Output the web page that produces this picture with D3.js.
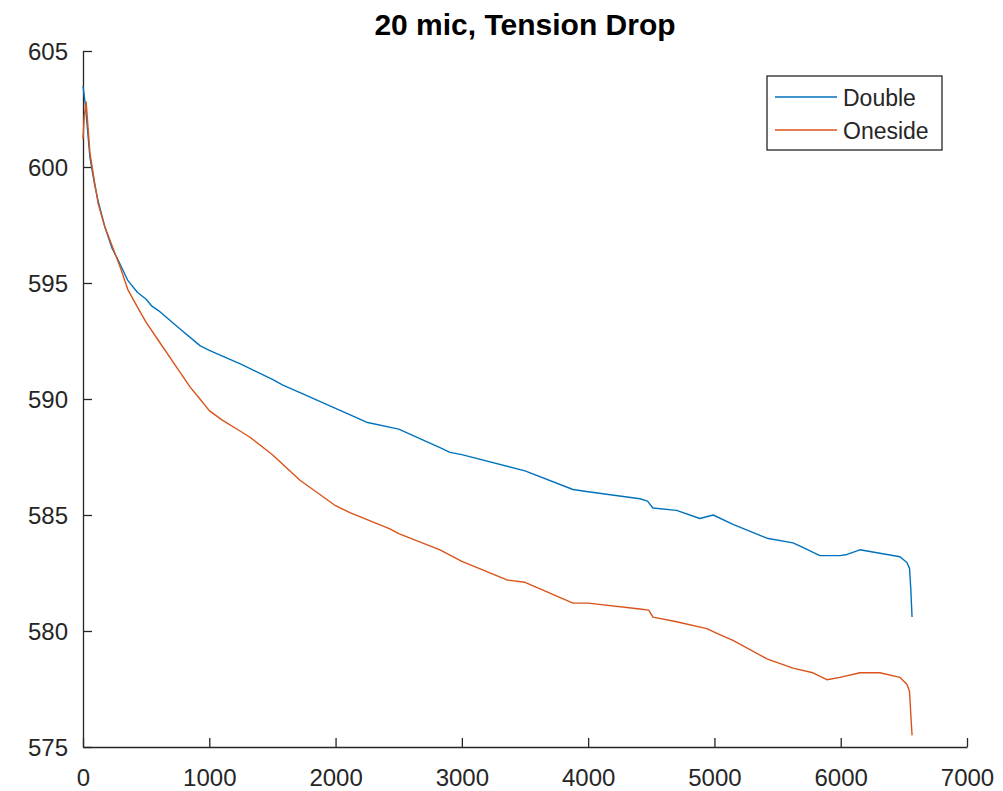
<!DOCTYPE html>
<html>
<head>
<meta charset="utf-8">
<script src="https://cdn.jsdelivr.net/npm/d3@7"></script>
<style>
  body { margin: 0; background: #fff; }
  svg text { font-family: "Liberation Sans", Arial, Helvetica, sans-serif; }
</style>
</head>
<body>
<svg id="chart" width="1003" height="791"></svg>
<script>
// values
var doubleX = [0, 20, 55, 90, 121, 174, 230, 277, 356, 430, 500, 546, 600, 750, 926, 1000, 1250, 1500, 1583, 1750,
  2000, 2245, 2500, 2827, 2906, 3000, 3500, 3880, 4000, 4410, 4470, 4513, 4700, 4885, 4990, 5147, 5416, 5622,
  5700, 5835, 5994, 6050, 6152, 6310, 6469, 6524, 6545, 6555, 6565];
var doubleY = [603.5, 602.6, 600.4, 599.3, 598.5, 597.4, 596.5, 596.0, 595.1, 594.6, 594.3, 594.0, 593.8, 593.1, 592.3, 592.1, 591.5, 590.85, 590.6, 590.2,
  589.6, 589.0, 588.7, 587.9, 587.7, 587.6, 586.9, 586.1, 586.0, 585.7, 585.6, 585.3, 585.2, 584.85, 585.0, 584.6, 584.0, 583.8,
  583.6, 583.25, 583.25, 583.3, 583.5, 583.35, 583.2, 582.95, 582.7, 581.8, 580.6];

var onesideX = [0, 10, 25, 55, 90, 121, 174, 231, 300, 356, 427, 500, 600, 750, 850, 926, 1000, 1100, 1250, 1322, 1500, 1718,
  2000, 2114, 2430, 2500, 2827, 3000, 3357, 3500, 3880, 4000, 4410, 4480, 4513, 4700, 4940, 5020, 5147, 5416, 5622,
  5780, 5890, 5994, 6152, 6310, 6469, 6524, 6545, 6555, 6565];
var onesideY = [601.2, 602.2, 602.8, 600.6, 599.4, 598.4, 597.4, 596.6, 595.6, 594.7, 594.0, 593.3, 592.5, 591.3, 590.5, 590.0, 589.5, 589.1, 588.6, 588.35, 587.6, 586.5,
  585.4, 585.1, 584.4, 584.2, 583.5, 583.0, 582.2, 582.1, 581.2, 581.2, 580.95, 580.9, 580.6, 580.4, 580.1, 579.9, 579.6, 578.8, 578.4,
  578.2, 577.9, 578.0, 578.2, 578.2, 578.0, 577.7, 577.4, 576.4, 575.5];

var xTicks = [0, 1000, 2000, 3000, 4000, 5000, 6000, 7000];
var yTicks = [575, 580, 585, 590, 595, 600, 605];
var seriesNames = ["Double", "Oneside"];
var seriesColors = ["#0072BD", "#D95319"];

var plotLeft = 83, plotRight = 967, plotTop = 51, plotBottom = 747;
var svg = d3.select("#chart");

var x = d3.scaleLinear().domain([0, 7000]).range([plotLeft, plotRight]);
var y = d3.scaleLinear().domain([575, 605]).range([plotBottom, plotTop]);

var axisColor = "#262626";

// x axis, ticks pointing inward like matlab
var gx = svg.append("g")
    .attr("transform", "translate(0," + plotBottom + ")")
    .call(d3.axisBottom(x).tickValues(xTicks).tickFormat(d3.format("d")).tickSizeInner(-9).tickSizeOuter(0));
gx.select(".domain").attr("stroke", axisColor).attr("stroke-width", 1.3);
gx.selectAll(".tick line").attr("stroke", axisColor).attr("stroke-width", 1.3);
gx.selectAll(".tick text")
    .attr("fill", axisColor)
    .attr("font-size", 24)
    .attr("y", 39)
    .attr("dy", null);

var gy = svg.append("g")
    .attr("transform", "translate(" + plotLeft + ",0)")
    .call(d3.axisLeft(y).tickValues(yTicks).tickFormat(d3.format("d")).tickSizeInner(-9).tickSizeOuter(0));
gy.select(".domain").attr("stroke", axisColor).attr("stroke-width", 1.3);
gy.selectAll(".tick line").attr("stroke", axisColor).attr("stroke-width", 1.3);
gy.selectAll(".tick text")
    .attr("fill", axisColor)
    .attr("font-size", 24)
    .attr("x", -15)
    .attr("dy", "0.36em");

var line = d3.line()
    .x(function(d) { return x(d[0]); })
    .y(function(d) { return y(d[1]); });

var series = [
  d3.zip(doubleX, doubleY),
  d3.zip(onesideX, onesideY)
];

series.forEach(function(s, i) {
    svg.append("path")
        .datum(s)
        .attr("fill", "none")
        .attr("stroke", seriesColors[i])
        .attr("stroke-width", 1.4)
        .attr("stroke-linejoin", "round")
        .attr("d", line);
});

// title
svg.append("text")
    .attr("x", (plotLeft + plotRight) / 2)
    .attr("y", 35)
    .attr("text-anchor", "middle")
    .attr("font-size", 30)
    .attr("font-weight", "bold")
    .attr("fill", "#000")
    .text("20 mic, Tension Drop");

// legend
var lg = svg.append("g");
lg.append("rect")
    .attr("x", 767).attr("y", 76)
    .attr("width", 175).attr("height", 74)
    .attr("fill", "#fff")
    .attr("stroke", axisColor)
    .attr("stroke-width", 1.3);
seriesNames.forEach(function(name, i) {
    var ly = 97 + i * 33;
    lg.append("line")
        .attr("x1", 775).attr("x2", 837)
        .attr("y1", ly).attr("y2", ly)
        .attr("stroke", seriesColors[i])
        .attr("stroke-width", 1.4);
    lg.append("text")
        .attr("x", 843).attr("y", ly + 9)
        .attr("font-size", 23)
        .attr("fill", axisColor)
        .text(name);
});
</script>
</body>
</html>
